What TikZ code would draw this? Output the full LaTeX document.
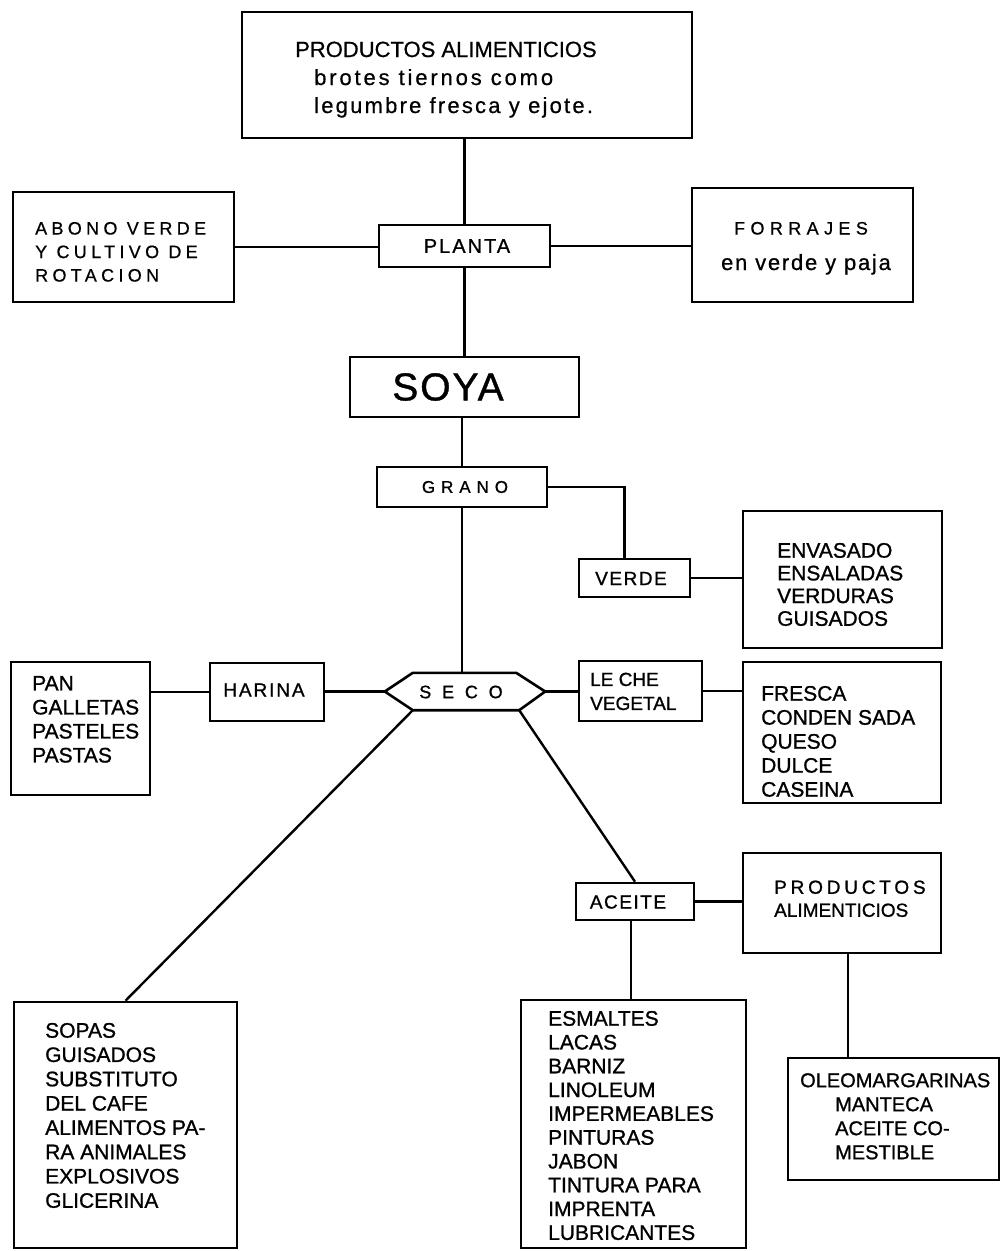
\documentclass[tikz,border=0pt]{standalone}
\usepackage{fontspec}
\setmainfont{Liberation Sans}
\begin{document}
\begin{tikzpicture}[x=1pt,y=-1pt,
  box/.style={draw,line width=2.6pt,inner sep=0pt},
  ln/.style={line width=2.4pt},
  lst/.style={inner sep=0pt,align=left,anchor=north west},
  lbl/.style={inner sep=0pt}]
\useasboundingbox (0,0) rectangle (1003,1251);
% boxes
\node[box,minimum width=450pt,minimum height=126pt] (top) at (467,75) {};
\node[box,minimum width=171pt,minimum height=42pt] (planta) at (464.5,246) {};
\node[box,minimum width=221pt,minimum height=110pt] (abono) at (123.5,247) {};
\node[box,minimum width=221pt,minimum height=114pt] (forrajes) at (802.5,245) {};
\node[box,minimum width=229pt,minimum height=60pt] (soya) at (464.5,387) {};
\node[box,minimum width=170pt,minimum height=40pt] (grano) at (462,487) {};
\node[box,minimum width=111pt,minimum height=38pt] (verde) at (634.5,578) {};
\node[box,minimum width=199pt,minimum height=137pt] (envasado) at (842.5,579.5) {};
\node[inner sep=0pt,minimum width=160pt,minimum height=37pt] (seco) at (465,691.5) {};
\node[box,minimum width=114pt,minimum height=58pt] (harina) at (267,692) {};
\node[box,minimum width=139pt,minimum height=133pt] (pan) at (80.5,728.5) {};
\node[box,minimum width=123pt,minimum height=60pt] (leche) at (640.5,691) {};
\node[box,minimum width=198pt,minimum height=141pt] (fresca) at (842,732.5) {};
\node[box,minimum width=118pt,minimum height=37pt] (aceite) at (635,901.5) {};
\node[box,minimum width=198pt,minimum height=100pt] (prodali) at (842,903) {};
\node[box,minimum width=223pt,minimum height=246pt] (sopas) at (125.5,1125) {};
\node[box,minimum width=225pt,minimum height=248pt] (esmaltes) at (633.5,1124) {};
\node[box,minimum width=211pt,minimum height=122pt] (oleo) at (893.5,1119) {};
% hexagon SECO
\draw[box] (seco.west) -- ([xshift=28pt]seco.north west) -- ([xshift=-29pt]seco.north east)
  -- (seco.east) -- ([xshift=-26pt]seco.south east) -- ([xshift=28pt]seco.south west) -- cycle;
% connectors
\draw[ln] (planta.north) -- (planta.north |- top.south);
\draw[ln] (abono.east) -- (abono.east -| planta.west);
\draw[ln] (planta.east) -- (planta.east -| forrajes.west);
\draw[ln] (planta.south) -- (planta.south |- soya.north);
\draw[ln] (grano.north) -- (grano.north |- soya.south);
\draw[ln] (grano.east) -| ([xshift=-10pt]verde.north);
\draw[ln] (verde.east) -- (verde.east -| envasado.west);
\draw[ln] (grano.south) -- (grano.south |- seco.north);
\draw[ln] (seco.west) -- (seco.west -| harina.east);
\draw[ln] (harina.west) -- (harina.west -| pan.east);
\draw[ln] (seco.east) -- (seco.east -| leche.west);
\draw[ln] (leche.east) -- (leche.east -| fresca.west);
\draw[ln] ([xshift=28pt]seco.south west) -- (sopas.north);
\draw[ln] ([xshift=-26pt]seco.south east) -- (aceite.north);
\draw[ln] (aceite.east) -- (aceite.east -| prodali.west);
\draw[ln] ([xshift=-4pt]aceite.south) -- ([xshift=-4pt]aceite.south |- esmaltes.north);
\draw[ln] ([xshift=6pt]prodali.south) -- ([xshift=6pt]prodali.south |- oleo.north);
% texts
\node[lbl,anchor=base west,font={\fontsize{22}{26}\selectfont\addfontfeature{FakeBold=0.6}}] (t1) at (295,57) {PRODUCTOS ALIMENTICIOS};
\node[lbl,anchor=base west,font={\fontsize{22}{26}\selectfont\addfontfeature{LetterSpace=13,FakeBold=0.6}}] (t2) at (314,85) {brotes tiernos como};
\node[lbl,anchor=base west,font={\fontsize{22}{26}\selectfont\addfontfeature{LetterSpace=10,FakeBold=0.6}}] (t3) at (314,113) {legumbre fresca y ejote.};
\node[lst,font={\fontsize{18}{23.5}\selectfont\addfontfeature{LetterSpace=24,FakeBold=0.6}}] (tabono) at (35,221.8) {ABONO VERDE\\Y CULTIVO DE\\ROTACION};
\node[lbl,anchor=base,font={\fontsize{18}{23}\selectfont\addfontfeature{LetterSpace=30,FakeBold=0.8}}] (tforr1) at (801,234.5) {FORRAJES};
\node[lbl,anchor=base,font={\fontsize{22}{26}\selectfont\addfontfeature{LetterSpace=8,FakeBold=0.8}}] (tforr2) at (806,270) {en verde y paja};
\node[lbl,font={\fontsize{20}{24}\selectfont\addfontfeature{LetterSpace=10,FakeBold=1}}] (tplanta) at (467,246) {PLANTA};
\node[lbl,font={\fontsize{39}{44}\selectfont\addfontfeature{LetterSpace=5,FakeBold=1}}] (tsoya) at (448,387) {SOYA};
\node[lbl,font={\fontsize{17}{20}\selectfont\addfontfeature{LetterSpace=35,FakeBold=1}}] (tgrano) at (465,487) {GRANO};
\node[lbl,font={\fontsize{19}{22}\selectfont\addfontfeature{LetterSpace=8,FakeBold=1}}] (tverde) at (631,578.5) {VERDE};
\node[lst,font={\fontsize{21}{22.7}\selectfont\addfontfeature{FakeBold=1}}] (tenv) at (777,542.8) {ENVASADO\\ENSALADAS\\VERDURAS\\GUISADOS};
\node[lbl,font={\fontsize{19}{22}\selectfont\addfontfeature{LetterSpace=10,FakeBold=1}}] (tharina) at (264,690) {HARINA};
\node[lst,font={\fontsize{21}{24}\selectfont\addfontfeature{FakeBold=1}}] (tpan) at (32,675.8) {PAN\\GALLETAS\\PASTELES\\PASTAS};
\node[lbl,font={\fontsize{18}{22}\selectfont\addfontfeature{LetterSpace=60,FakeBold=1}}] (tseco) at (461,692) {SECO};
\node[lst,font={\fontsize{19}{24}\selectfont\addfontfeature{FakeBold=1}}] (tleche) at (590,672.5) {LE CHE\\VEGETAL};
\node[lst,font={\fontsize{21}{24}\selectfont\addfontfeature{FakeBold=1}}] (tfresca) at (761,685.8) {FRESCA\\CONDEN SADA\\QUESO\\DULCE\\CASEINA};
\node[lbl,font={\fontsize{19}{22}\selectfont\addfontfeature{LetterSpace=8,FakeBold=1}}] (taceite) at (628,902) {ACEITE};
\node[lst,font={\fontsize{19}{23}\selectfont\addfontfeature{FakeBold=1}}] (tprodali) at (774,880.3) {{\addfontfeature{LetterSpace=20}PRODUCTOS}\\ALIMENTICIOS};
\node[lst,font={\fontsize{21}{24.3}\selectfont\addfontfeature{FakeBold=1}}] (tsopas) at (45,1022.8) {SOPAS\\GUISADOS\\SUBSTITUTO\\DEL CAFE\\ALIMENTOS PA-\\RA ANIMALES\\EXPLOSIVOS\\GLICERINA};
\node[lst,font={\fontsize{21}{23.8}\selectfont\addfontfeature{FakeBold=1}}] (tesm) at (548,1010.8) {ESMALTES\\LACAS\\BARNIZ\\LINOLEUM\\IMPERMEABLES\\PINTURAS\\JABON\\TINTURA PARA\\IMPRENTA\\LUBRICANTES};
\node[lst,font={\fontsize{20}{24}\selectfont\addfontfeature{FakeBold=1}}] (toleo) at (800,1073) {OLEOMARGARINAS\\\hspace*{35pt}MANTECA\\\hspace*{35pt}ACEITE CO-\\\hspace*{35pt}MESTIBLE};
\end{tikzpicture}
\end{document}
